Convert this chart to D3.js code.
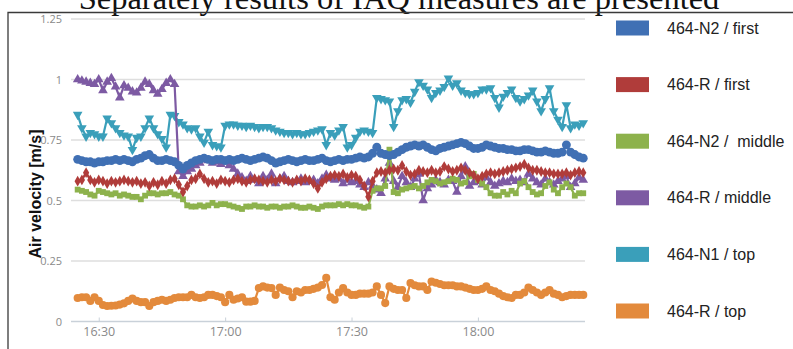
<!DOCTYPE html>
<html>
<head>
<meta charset="utf-8">
<script src="https://cdn.jsdelivr.net/npm/d3@7/dist/d3.min.js"></script>
<style>
  body { margin: 0; background: #fff; }
  svg { display: block; }
</style>
</head>
<body>
<svg id="chart" width="793" height="349"></svg>
<script>
// Air velocity readings, one value per minute from 16:25 to 18:25
const startClock = [16, 25];
const stepMinutes = 1;

const seriesNames = ["464-N2 / first", "464-R / first", "464-N2 /  middle", "464-R / middle", "464-N1 / top", "464-R / top"];
const seriesColors = ["#4070b4", "#b03c3a", "#8db24c", "#7d5aa3", "#3a9fba", "#e38a3c"];

const n2First = [
  0.67,0.665,0.66,0.66,0.655,0.66,0.66,0.665,0.665,0.67,
  0.665,0.67,0.665,0.66,0.67,0.675,0.685,0.69,0.675,0.665,
  0.665,0.67,0.665,0.66,0.645,0.63,0.645,0.655,0.665,0.67,
  0.675,0.67,0.665,0.67,0.67,0.665,0.67,0.665,0.67,0.675,
  0.67,0.665,0.67,0.675,0.68,0.675,0.665,0.655,0.66,0.665,
  0.67,0.665,0.66,0.665,0.67,0.665,0.665,0.67,0.675,0.665,
  0.66,0.665,0.67,0.665,0.67,0.67,0.675,0.68,0.675,0.68,
  0.695,0.72,0.695,0.69,0.685,0.69,0.70,0.71,0.72,0.725,
  0.73,0.725,0.73,0.72,0.71,0.705,0.715,0.72,0.725,0.73,
  0.735,0.74,0.735,0.725,0.715,0.715,0.72,0.73,0.725,0.72,
  0.715,0.715,0.71,0.71,0.705,0.705,0.71,0.71,0.705,0.70,
  0.70,0.705,0.70,0.695,0.695,0.70,0.73,0.70,0.69,0.68,
  0.675
];
const rFirst = [
  0.58,0.585,0.615,0.585,0.575,0.585,0.58,0.57,0.58,0.575,
  0.58,0.585,0.58,0.575,0.58,0.57,0.575,0.56,0.575,0.565,
  0.58,0.57,0.585,0.59,0.565,0.535,0.56,0.585,0.59,0.61,
  0.59,0.575,0.58,0.57,0.585,0.58,0.575,0.585,0.59,0.58,
  0.575,0.585,0.59,0.585,0.58,0.575,0.585,0.58,0.59,0.585,
  0.58,0.575,0.585,0.58,0.59,0.585,0.57,0.55,0.575,0.59,
  0.60,0.605,0.60,0.61,0.595,0.605,0.60,0.585,0.56,0.515,
  0.58,0.615,0.62,0.615,0.625,0.63,0.625,0.645,0.62,0.605,
  0.61,0.625,0.62,0.615,0.625,0.615,0.62,0.64,0.63,0.62,
  0.625,0.635,0.625,0.615,0.605,0.59,0.60,0.61,0.615,0.61,
  0.615,0.62,0.625,0.63,0.635,0.64,0.65,0.635,0.625,0.625,
  0.62,0.615,0.615,0.61,0.61,0.61,0.615,0.605,0.615,0.62,
  0.615
];
const n2Middle = [
  0.545,0.54,0.535,0.525,0.52,0.54,0.535,0.53,0.525,0.53,
  0.52,0.525,0.52,0.515,0.515,0.505,0.52,0.53,0.53,0.525,
  0.53,0.53,0.535,0.525,0.52,0.505,0.48,0.475,0.475,0.48,
  0.475,0.48,0.49,0.48,0.485,0.485,0.48,0.475,0.47,0.465,
  0.475,0.475,0.48,0.475,0.475,0.47,0.475,0.475,0.47,0.475,
  0.475,0.48,0.475,0.47,0.47,0.475,0.47,0.465,0.475,0.48,
  0.48,0.48,0.485,0.48,0.485,0.48,0.48,0.475,0.47,0.475,
  0.54,0.55,0.55,0.56,0.71,0.535,0.53,0.545,0.55,0.555,
  0.56,0.55,0.56,0.575,0.585,0.58,0.57,0.575,0.58,0.59,
  0.585,0.57,0.575,0.60,0.61,0.585,0.57,0.555,0.53,0.52,
  0.52,0.535,0.525,0.54,0.53,0.57,0.58,0.555,0.535,0.525,
  0.53,0.56,0.575,0.545,0.53,0.555,0.57,0.555,0.52,0.53,
  0.53
];
const rMiddle = [
  1.0,0.995,0.99,0.985,0.98,1.0,0.955,0.99,1.005,0.97,
  0.925,0.975,0.965,0.95,0.945,0.965,0.99,0.98,0.955,0.94,
  0.96,0.985,1.0,0.98,0.62,0.60,0.62,0.63,0.645,0.655,
  0.67,0.665,0.655,0.66,0.65,0.66,0.645,0.63,0.61,0.595,
  0.58,0.60,0.585,0.57,0.60,0.585,0.61,0.57,0.59,0.60,
  0.58,0.575,0.58,0.59,0.575,0.58,0.585,0.57,0.59,0.605,
  0.59,0.585,0.59,0.57,0.585,0.575,0.58,0.565,0.555,0.575,
  0.56,0.545,0.53,0.59,0.655,0.58,0.555,0.60,0.575,0.555,
  0.59,0.61,0.50,0.55,0.565,0.585,0.575,0.565,0.585,0.58,
  0.535,0.60,0.64,0.56,0.575,0.58,0.565,0.595,0.575,0.56,
  0.57,0.58,0.575,0.59,0.58,0.585,0.575,0.61,0.59,0.575,
  0.565,0.59,0.575,0.565,0.58,0.59,0.60,0.555,0.57,0.595,
  0.585
];
const n1Top = [
  0.855,0.80,0.765,0.78,0.775,0.765,0.765,0.84,0.82,0.80,
  0.78,0.77,0.765,0.71,0.76,0.765,0.80,0.84,0.80,0.775,
  0.755,0.72,0.855,0.85,0.825,0.815,0.80,0.795,0.80,0.765,
  0.74,0.785,0.73,0.725,0.72,0.81,0.815,0.815,0.81,0.81,
  0.805,0.81,0.805,0.80,0.805,0.805,0.80,0.79,0.785,0.78,
  0.78,0.775,0.78,0.775,0.775,0.78,0.785,0.79,0.795,0.73,
  0.78,0.77,0.79,0.805,0.72,0.73,0.76,0.785,0.79,0.785,
  0.78,0.925,0.92,0.915,0.91,0.805,0.87,0.915,0.92,0.905,
  0.95,0.99,0.975,0.96,0.925,0.945,0.955,0.97,1.005,0.975,
  0.985,0.955,0.945,0.94,0.94,0.945,0.96,0.96,0.965,0.925,
  0.885,0.93,0.945,0.96,0.925,0.91,0.92,0.935,0.955,0.91,
  0.87,0.92,0.965,0.87,0.835,0.805,0.895,0.80,0.815,0.81,
  0.82
];
const rTop = [
  0.097,0.10,0.10,0.085,0.10,0.085,0.068,0.064,0.065,0.066,
  0.07,0.075,0.085,0.095,0.085,0.08,0.08,0.064,0.08,0.085,
  0.09,0.085,0.09,0.097,0.10,0.10,0.10,0.11,0.10,0.097,
  0.10,0.11,0.11,0.105,0.10,0.08,0.11,0.09,0.095,0.10,
  0.082,0.082,0.085,0.138,0.145,0.14,0.138,0.11,0.14,0.13,
  0.125,0.10,0.125,0.12,0.13,0.13,0.135,0.14,0.151,0.18,
  0.10,0.09,0.12,0.138,0.12,0.11,0.11,0.115,0.115,0.115,
  0.12,0.145,0.11,0.076,0.145,0.135,0.13,0.13,0.097,0.159,
  0.15,0.145,0.145,0.13,0.165,0.16,0.155,0.15,0.15,0.15,
  0.145,0.145,0.14,0.135,0.13,0.13,0.135,0.145,0.13,0.125,
  0.115,0.105,0.10,0.097,0.11,0.11,0.12,0.14,0.13,0.12,
  0.11,0.12,0.13,0.115,0.11,0.10,0.105,0.11,0.11,0.11,
  0.11
];

const yTickValues = [0, 0.25, 0.5, 0.75, 1, 1.25];
const yTickLabels = ["0", "0.25", "0.5", "0.75", "1", "1.25"];
const xTickLabels = ["16:30", "17:00", "17:30", "18:00"];

const captionText = "Separately results of IAQ measures are presented";
const yTitle = "Air velocity [m/s]";

// ---------- setup ----------
const svg = d3.select("#chart");
const day = (h, m, s = 0) => new Date(2020, 0, 1, h, m, s);
const allSeries = [n2First, rFirst, n2Middle, rMiddle, n1Top, rTop];
const times = n2First.map((_, i) => day(startClock[0], startClock[1] + i * stepMinutes));

const plot = { left: 71, right: 585, top: 19, bottom: 321.5 };

const x = d3.scaleTime()
  .domain([day(16, 23, 25), day(18, 25, 25)])
  .range([plot.left, plot.right]);
const y = d3.scaleLinear()
  .domain([0, 1.25])
  .range([plot.bottom, plot.top]);

// caption line clipped at the top edge
svg.append("text")
  .attr("x", 399).attr("y", 9)
  .attr("text-anchor", "middle")
  .attr("font-family", "'Liberation Serif', 'Times New Roman', serif")
  .attr("font-size", 32.5)
  .attr("fill", "#111")
  .text(captionText);

// frame around the chart panel
svg.append("path")
  .attr("d", "M8,349V12.5H793")
  .attr("fill", "none")
  .attr("stroke", "#3a3a3a")
  .attr("stroke-width", 1.3);

// horizontal grid
const grid = svg.append("g");
grid.selectAll("line")
  .data(yTickValues)
  .join("line")
  .attr("x1", plot.left).attr("x2", plot.right)
  .attr("y1", d => y(d)).attr("y2", d => y(d))
  .attr("stroke", d => d === 0 ? "#c9d1d9" : "#dedede")
  .attr("stroke-width", 1.4);

// y axis labels
const yAxis = d3.axisLeft(y)
  .tickValues(yTickValues)
  .tickFormat((d, i) => yTickLabels[i])
  .tickSize(0)
  .tickPadding(9);
svg.append("g")
  .attr("transform", `translate(${plot.left},0)`)
  .call(yAxis)
  .call(g => g.select(".domain").remove())
  .call(g => g.selectAll("text")
    .attr("font-family", "'Open Sans', sans-serif")
    .attr("font-size", 11)
    .attr("fill", "#8a8a8a"));

// x axis labels
const xTickTimes = xTickLabels.map(s => { const [h, m] = s.split(":").map(Number); return day(h, m); });
const xAxis = d3.axisBottom(x)
  .tickValues(xTickTimes)
  .tickFormat((d, i) => xTickLabels[i])
  .tickSize(4)
  .tickPadding(6);
svg.append("g")
  .attr("transform", `translate(0,${plot.bottom - 4})`)
  .call(xAxis)
  .call(g => g.select(".domain").remove())
  .call(g => g.selectAll("line").attr("stroke", "#c9d1d9"))
  .call(g => g.selectAll("text")
    .attr("font-family", "'Open Sans', sans-serif")
    .attr("font-size", 12.5)
    .attr("fill", "#8a8a8a"));

// y axis title
svg.append("text")
  .attr("transform", "translate(35,194) rotate(-90)")
  .attr("text-anchor", "middle")
  .attr("dy", "0.35em")
  .attr("font-family", "'Liberation Sans', Arial, sans-serif")
  .attr("font-weight", "bold")
  .attr("font-size", 16)
  .attr("fill", "#111")
  .text(yTitle);

// ---------- series ----------
const symbols = [
  { type: d3.symbolCircle, size: 62, rot: 0 },
  { type: d3.symbolDiamond, size: 34, rot: 0 },
  { type: d3.symbolSquare, size: 34, rot: 0 },
  { type: d3.symbolTriangle, size: 40, rot: 0 },
  { type: d3.symbolTriangle, size: 40, rot: 180 },
  { type: d3.symbolCircle, size: 52, rot: 0 }
];
const line = d3.line().x(d => x(d.t)).y(d => y(d.v));
const drawOrder = [4, 5, 3, 2, 1, 0];

drawOrder.forEach(k => {
  const pts = allSeries[k].map((v, i) => ({ t: times[i], v }));
  const g = svg.append("g");
  g.append("path")
    .datum(pts)
    .attr("d", line)
    .attr("fill", "none")
    .attr("stroke", seriesColors[k])
    .attr("stroke-width", 2.2)
    .attr("stroke-linejoin", "round");
  const sym = d3.symbol().type(symbols[k].type).size(symbols[k].size);
  g.selectAll("path.pt")
    .data(pts)
    .join("path")
    .attr("class", "pt")
    .attr("d", sym)
    .attr("transform", d => `translate(${x(d.t)},${y(d.v)}) rotate(${symbols[k].rot})`)
    .attr("fill", seriesColors[k]);
});

// ---------- legend ----------
const legendY = d3.scalePoint().domain(d3.range(seriesNames.length)).range([28, 311]);
const legend = svg.append("g");
seriesNames.forEach((name, i) => {
  legend.append("rect")
    .attr("x", 616).attr("y", legendY(i) - 7.5)
    .attr("width", 33).attr("height", 15)
    .attr("fill", seriesColors[i]);
  legend.append("text")
    .attr("x", 667).attr("y", legendY(i))
    .attr("dy", "0.35em")
    .attr("font-family", "'Liberation Sans', Arial, sans-serif")
    .attr("font-size", 16)
    .attr("fill", "#222")
    .style("white-space", "pre")
    .text(name);
});
</script>
</body>
</html>
